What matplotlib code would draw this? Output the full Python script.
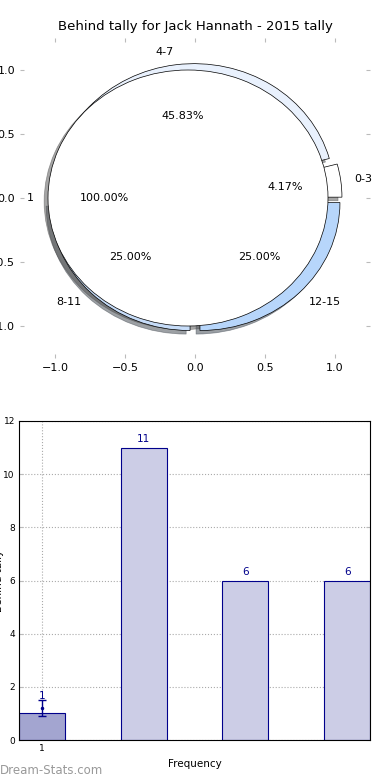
import numpy as np
import matplotlib.pyplot as plt

# data
ring_labels = ['0-3', '4-7', '8-11', '12-15']
ring_values = [1, 11, 6, 6]
ring_colors = ['#ffffff', '#e9f1fd', '#c6dcf8', '#b7d6fb']
whole_labels = ['1']
whole_values = [1]

bar_values = [1, 11, 6, 6]
bar_colors = ['#a3a5d0', '#cccde6', '#cccde6', '#cccde6']
err_center = 1.2
err_size = 0.3
bar_ticks = ['1']

fig = plt.figure(figsize=(3.9, 7.8), dpi=100)

# top: pie
ax = fig.add_axes([20/390, 1 - 358/780, 350/390, 320/780])
wp = dict(edgecolor='black', linewidth=0.5)
ax.pie(ring_values, labels=ring_labels, colors=ring_colors, autopct='%1.2f%%',
       explode=[0.05] * 4, shadow=True, radius=1.0, wedgeprops=wp,
       textprops=dict(fontsize=8))
ax.pie(whole_values, labels=whole_labels, colors=['white'], autopct='%1.2f%%',
       explode=[0.05], shadow=True, radius=1.0, wedgeprops=wp,
       textprops=dict(fontsize=8))
ax.set_aspect('auto')
ax.set_xlim(-1.25, 1.25)
ax.set_ylim(-1.25, 1.25)
ax.set_frame_on(False)
ax.set_xticks([-1.0, -0.5, 0.0, 0.5, 1.0])
ax.set_yticks([-1.0, -0.5, 0.0, 0.5, 1.0])
ax.tick_params(labelsize=8, color='#bbbbbb', length=3, top=True, right=True,
               direction='in')
ax.set_title('Behind tally for Jack Hannath - 2015 tally', fontsize=9.5, pad=6)

# bottom: bars
bx = fig.add_axes([19/390, 1 - 740/780, 351/390, 319/780])
pos = np.arange(len(bar_values))
bx.bar(pos, bar_values, width=0.45, color=bar_colors, edgecolor='#00008b',
       linewidth=0.8, zorder=2)
bx.errorbar([0], [err_center], yerr=err_size, fmt='.', color='#00008b',
            capsize=3, markersize=3, linewidth=1, zorder=3)
for i, v in enumerate(bar_values):
    yy = v + 0.15 if i > 0 else err_center + err_size - 0.05
    bx.text(i, yy, str(v), ha='center', va='bottom', color='#00008b', fontsize=7.5)
bx.set_xlim(-0.225, 3.225)
bx.set_ylim(0, 12)
bx.set_yticks(range(0, 13, 2))
bx.set_xticks([0])
bx.set_xticklabels(bar_ticks)
bx.tick_params(labelsize=6.5, length=3, color='#bbbbbb', right=True,
               direction='in', pad=3)
bx.grid(True, linestyle=':', color='#aaaaaa', linewidth=0.8, zorder=0)
bx.set_axisbelow(True)
bx.set_xlabel('Frequency', fontsize=7.5)
bx.set_ylabel('Behind tally', fontsize=7.5)
bx.yaxis.set_label_coords(-0.042, 0.5)
for s in bx.spines.values():
    s.set_linewidth(0.8)

fig.text(0.0, 3/780, 'Dream-Stats.com', color='#999999', fontsize=8.5,
         ha='left', va='bottom')

fig.savefig('out.png', dpi=100)
